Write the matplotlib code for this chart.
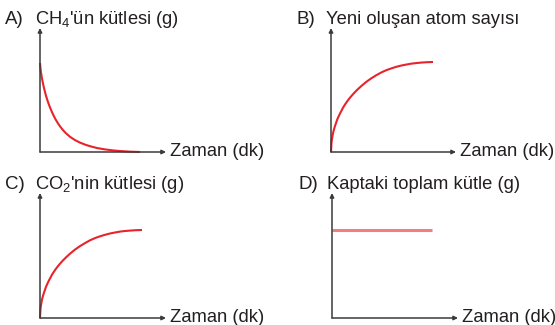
import numpy as np
import matplotlib
matplotlib.use("Agg")
import matplotlib.pyplot as plt

plt.rcParams['font.family'] = ['Liberation Sans', 'DejaVu Sans']
plt.rcParams['mathtext.fontset'] = 'custom'
plt.rcParams['mathtext.rm'] = 'Liberation Sans'

# values (time, quantity) in arbitrary units
t_a = [0, 0.5, 1, 2, 3, 4, 5, 6, 7, 8, 9, 10, 12, 14, 16, 18, 20, 23, 26, 30,
       35, 40, 45, 50, 57, 65, 73, 80, 90, 100]
ch4 = [89, 83.5, 79.5, 73.5, 68.5, 64, 60, 56.3, 53, 50, 47.2, 44.6, 39.8,
       35.6, 31.9, 28.6, 25.7, 21.9, 18.7, 15.2, 11.9, 9.4, 7.4, 5.8, 4.0, 2.6,
       1.6, 0.95, 0.35, 0]

t_b = [0, 0.5, 1, 2, 3, 4, 5, 6, 7, 8, 9, 10, 12, 14, 16, 18, 20, 23, 26, 30,
       35, 40, 45, 50, 55, 60, 65, 70, 75, 80, 85, 90, 96, 102]
atoms = [0, 9.4, 13.1, 18.7, 22.7, 26, 28.8, 31.9, 34.3, 36.4, 38.5, 40.4,
         44.3, 47.5, 50.4, 53.1, 55.5, 58.9, 62, 65.7, 69.9, 73.5, 76.6, 79.4,
         81.7, 83.5, 85.1, 86.4, 87.4, 88.3, 88.9, 89.4, 89.8, 90]

t_c = [0, 0.5, 1, 2, 3, 4, 5, 6, 7, 8, 9, 10, 12, 14, 16, 18, 20, 23, 26, 30,
       35, 40, 45, 50, 55, 60, 65, 70, 75, 80, 85, 90, 96, 102]
co2 = [0, 9.2, 12.8, 18.3, 22.2, 25.4, 28.2, 31.2, 33.5, 35.6, 37.7, 39.5,
       43.3, 46.4, 49.3, 51.9, 54.3, 57.6, 60.6, 64.3, 68.4, 71.9, 74.9, 77.7,
       79.9, 81.7, 83.2, 84.5, 85.5, 86.4, 87, 87.4, 87.8, 88]

t_d = [0, 100]
total = [88, 88]

letters = ['A)', 'B)', 'C)', 'D)']
ylabels = ["CH$_\\mathregular{4}$'ün kütlesi (g)", 'Yeni oluşan atom sayısı',
           "CO$_\\mathregular{2}$'nin kütlesi (g)", 'Kaptaki toplam kütle (g)']
xlabel = 'Zaman (dk)'

W, H = 555, 325
fig = plt.figure(figsize=(W / 100, H / 100), dpi=100)

# (origin x, origin y, x-axis end, y-axis top) in pixels
boxes = [(40, 152, 166, 28), (331, 152, 456, 28),
         (40, 318, 166, 193), (332, 318, 458, 193)]
series = [(t_a, ch4, '#e8232c', 1.5), (t_b, atoms, '#e8232c', 1.5),
          (t_c, co2, '#e8232c', 1.5), (t_d, total, '#f07f80', 2.2)]
axcol = '#3a3a3a'
txtcol = '#231f20'

for i, (x0, y0, x1, y1) in enumerate(boxes):
    ax = fig.add_axes([x0 / W, 1 - y0 / H, (x1 - x0) / W, (y0 - y1) / H])
    ax.set_xlim(0, x1 - x0)
    ax.set_ylim(0, y0 - y1)
    ax.axis('off')
    t, v, c, lw = series[i]
    ax.plot(t, v, color=c, lw=lw, clip_on=False, solid_capstyle='butt',
            solid_joinstyle='round')
    ax.annotate('', xy=(1, 0), xytext=(0, 0), xycoords='axes fraction',
                arrowprops=dict(arrowstyle='-|>', color=axcol, lw=1.1,
                                mutation_scale=6, shrinkA=0, shrinkB=0))
    ax.annotate('', xy=(0, 1), xytext=(0, 0), xycoords='axes fraction',
                arrowprops=dict(arrowstyle='-|>', color=axcol, lw=1.1,
                                mutation_scale=6, shrinkA=0, shrinkB=0))
    # letter and axis titles
    fig.text((x0 - 35 + (1 if i % 2 else 0)) / W, 1 - (y1 - 4) / H, letters[i],
             fontsize=13.5, color=txtcol, va='baseline', ha='left')
    fig.text((x0 - 5) / W, 1 - (y1 - 4) / H, ylabels[i],
             fontsize=13.2, color=txtcol, va='baseline', ha='left')
    fig.text((x1 + 4) / W, 1 - (y0 + 4) / H, xlabel,
             fontsize=13.2, color=txtcol, va='baseline', ha='left')

fig.savefig('out.png', dpi=100, facecolor='white')
